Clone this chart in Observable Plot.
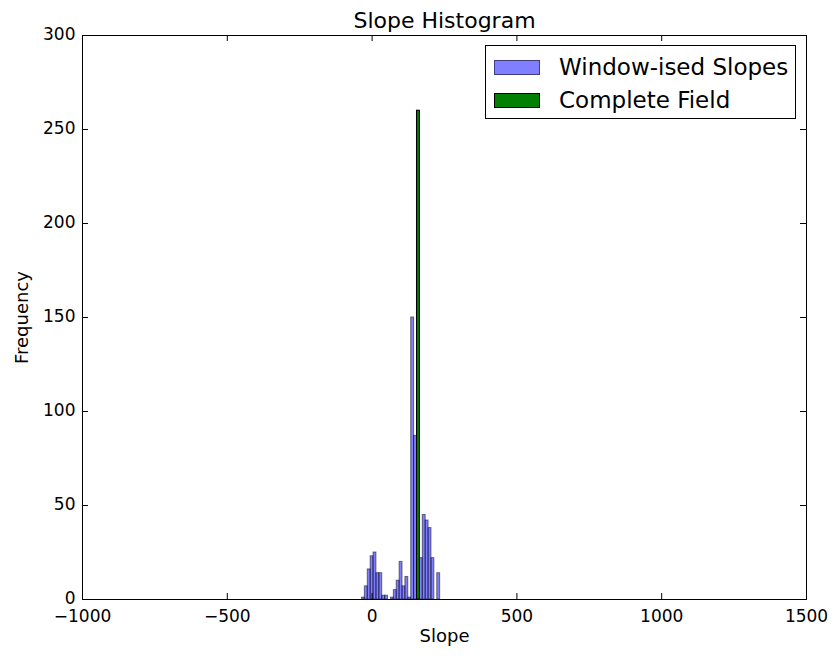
<!DOCTYPE html>
<html><head><meta charset="utf-8">
<script src="https://cdn.jsdelivr.net/npm/d3@7"></script>
<script src="https://cdn.jsdelivr.net/npm/@observablehq/plot@0.6"></script>
<style>
body{margin:0;background:#fff}
#wrap{position:relative;width:837px;height:656px;font-family:"DejaVu Sans",sans-serif}
#legend{position:absolute;left:485px;top:45px;width:309px;height:72px;border:1px solid #000;background:#fff}
.patch{position:absolute;left:8px;width:46px;height:15px;box-sizing:border-box}
.lab{position:absolute;left:73px;font-size:23px;white-space:nowrap;line-height:24px}
</style>
</head><body><div id="wrap"></div>
<script>
// ---- data ----
const binWidth = 10;
const windowBinStarts = [-35, -25, -15, -5, 5, 15, 25, 35, 45, 65, 75, 85, 95, 105, 115, 125, 135, 145, 165, 175, 185, 195, 205, 225];
const windowCounts    = [  1,   7,  16, 23, 25, 14, 14,  2,  2,  1,  5, 10, 20,   7,  12,   1, 150,  87,  22,  45,  42,  38,  22,  14];
const completeBinStarts = [155];
const completeCounts = [260];
const slopeRange = [-890, 1404];
const xTicks = [-1000, -500, 0, 500, 1000, 1500];
const yTicks = [0, 50, 100, 150, 200, 250, 300];
const legendLabels = ["Window-ised Slopes", "Complete Field"];
const titleText = "Slope Histogram";
const xLabel = "Slope";
const yLabel = "Frequency";

const windowBins = windowBinStarts.map((s, i) => ({start: s, end: s + binWidth, count: windowCounts[i]}));
const completeBins = completeBinStarts.map((s, i) => ({start: s, end: s + binWidth, count: completeCounts[i]}));

const W = 837, H = 656, mT = 35, mR = 31, mB = 57, mL = 82;
const plotH = H - mT - mB, plotW = W - mL - mR;
const fmt = d => d < 0 ? "\u2212" + Math.abs(d) : String(d);

const chart = Plot.plot({
  width: W, height: H,
  marginTop: mT, marginRight: mR, marginBottom: mB, marginLeft: mL,
  x: {domain: [-1000, 1500]},
  y: {domain: [0, 300]},
  style: {fontFamily: "DejaVu Sans, sans-serif", fontSize: "17px", background: "#fff", color: "#000", overflow: "visible"},
  marks: [
    Plot.ruleY([0], {x1: slopeRange[0], x2: slopeRange[1], stroke: "#000", strokeOpacity: 0.6}),
    Plot.rectY(windowBins, {x1: "start", x2: "end", y1: 0, y2: "count", fill: "blue", fillOpacity: 0.5, stroke: "#000", strokeOpacity: 0.5, strokeWidth: 1}),
    Plot.rectY(completeBins, {x1: "start", x2: "end", y1: 0, y2: "count", fill: "green", stroke: "#000", strokeWidth: 1}),
    Plot.frame({stroke: "#000", strokeWidth: 1}),
    Plot.ruleX(xTicks, {x: d => d, insetTop: plotH - 6, stroke: "#000"}),
    Plot.ruleX(xTicks, {x: d => d, insetBottom: plotH - 6, stroke: "#000"}),
    Plot.ruleY(yTicks, {y: d => d, insetRight: plotW - 6, stroke: "#000"}),
    Plot.ruleY(yTicks, {y: d => d, insetLeft: plotW - 6, stroke: "#000"}),
    Plot.axisX(xTicks, {tickSize: 0, tickPadding: 10, label: null, tickFormat: fmt}),
    Plot.axisY(yTicks, {tickSize: 0, tickPadding: 7, dy: -1, label: null, tickFormat: fmt}),
    Plot.text([titleText], {frameAnchor: "top", dy: -8, lineAnchor: "bottom", fontSize: 22}),
    Plot.text([xLabel], {frameAnchor: "bottom", dy: 42, lineAnchor: "bottom", fontSize: 18}),
    Plot.text([yLabel], {frameAnchor: "left", dx: -55, rotate: -90, textAnchor: "middle", lineAnchor: "bottom", fontSize: 18})
  ]
});
const wrap = document.getElementById("wrap");
wrap.appendChild(chart);

const legend = document.createElement("div");
legend.id = "legend";
const patchStyles = [
  {background: "rgba(0,0,255,0.5)", border: "1px solid rgba(0,0,0,0.5)"},
  {background: "green", border: "1px solid #000"}
];
legendLabels.forEach((lab, i) => {
  const top = i === 0 ? 9 : 42;
  const p = document.createElement("div");
  p.className = "patch";
  p.style.top = (top + 5) + "px";
  Object.assign(p.style, patchStyles[i]);
  const t = document.createElement("div");
  t.className = "lab";
  t.style.top = top + "px";
  t.textContent = lab;
  legend.appendChild(p);
  legend.appendChild(t);
});
wrap.appendChild(legend);
</script>
</body></html>
